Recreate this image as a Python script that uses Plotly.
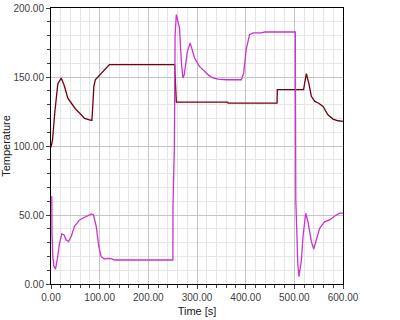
import plotly.graph_objects as go

# Dark red series (time [s], temperature)
t_red = [0, 3, 8, 14, 21, 27, 34.6, 41.5, 50, 58.6, 69, 79, 84, 86, 88, 91, 96, 105, 112, 120,
         254, 257.5, 363, 364, 464.5, 465, 519, 524.7, 530, 535, 542, 550, 559, 569, 579.5, 590, 600]
T_red = [99, 104, 125, 145, 149.3, 144, 134.7, 131, 127, 123.9, 120, 119, 118.5, 130, 143, 148, 150, 153, 156, 159,
         159, 131.8, 131.8, 131.1, 131.1, 140.8, 140.8, 152.4, 145, 136, 132.3, 131, 128.7, 122.6, 119.5, 118.3, 117.8]

# Magenta series
t_mag = [0, 1.7, 2, 3.7, 6, 9.2, 13, 17.5, 22.2, 27, 31, 36, 42, 48, 58.6, 69, 76, 82.7, 87.4, 93, 98.3, 103,
         110, 117, 123.8, 130.6, 250.5, 250.6, 253.5, 255, 257.5, 264, 268, 271, 274, 280, 286, 295, 305,
         315.6, 325, 332.7, 343, 360, 391, 396, 401, 408, 415, 432, 439, 502, 502.2, 503, 505, 507, 509.6, 514.5,
         518, 521.3, 523.4, 528, 535, 539.8, 545.4, 552, 562.4, 572.7, 583, 593, 600]
T_mag = [63.4, 63, 38, 19.8, 13, 10.7, 18, 29.5, 36.3, 35.5, 32, 30.7, 35, 41.6, 46.4, 48.4, 49.5, 50.8, 50, 41.6, 27, 19.8,
         18.1, 18.6, 18.4, 17.4, 17.4, 55.4, 100, 180, 195.2, 185.6, 160, 149.3, 152, 168, 174.7, 163.8, 157.7,
         154, 151, 149.3, 148.5, 148, 148, 153, 169.8, 180.7, 182, 182, 182.6, 182.6, 108, 61, 39, 15, 5.3, 17.4,
         35, 47.7, 51.3, 45.2, 30.7, 25.4, 31.9, 40.4, 45.2, 46.4, 49.3, 51.3, 51.3]

fig = go.Figure()
fig.add_trace(go.Scatter(x=t_red, y=T_red, mode="lines",
                         line=dict(color="#6e0010", width=1.3), showlegend=False))
fig.add_trace(go.Scatter(x=t_mag, y=T_mag, mode="lines",
                         line=dict(color="#cc33cc", width=1.3), showlegend=False))

axis_common = dict(
    showline=True, linecolor="black", linewidth=1, mirror=True,
    ticks="outside", ticklen=4, tickcolor="#404040", automargin=False,
    tickformat=".2f", showgrid=True, gridcolor="#c4c4c4", gridwidth=1,
    zeroline=False, tickfont=dict(family="Liberation Sans", size=10, color="#404040"),
)

fig.update_layout(
    width=400, height=320,
    margin=dict(l=51, r=57, t=8, b=36),
    paper_bgcolor="white", plot_bgcolor="white",
    font=dict(family="Liberation Sans", size=10, color="#202020"),
    xaxis=dict(range=[0, 600], dtick=100,
               minor=dict(dtick=20, ticks="outside", ticklen=3, tickcolor="#404040",
                          showgrid=True, gridcolor="#e6e6e6"),
               title=dict(text="Time [s]", standoff=5, font=dict(size=11)),
               **axis_common),
    yaxis=dict(range=[0, 200], dtick=50,
               minor=dict(dtick=10, ticks="outside", ticklen=3, tickcolor="#404040",
                          showgrid=True, gridcolor="#e6e6e6"),
               title=dict(text="Temperature", standoff=3, font=dict(size=11)),
               **axis_common),
)

fig.write_html("out.html", config={"displayModeBar": False},
               post_script="document.body.style.margin='0';document.body.style.overflow='hidden';")
